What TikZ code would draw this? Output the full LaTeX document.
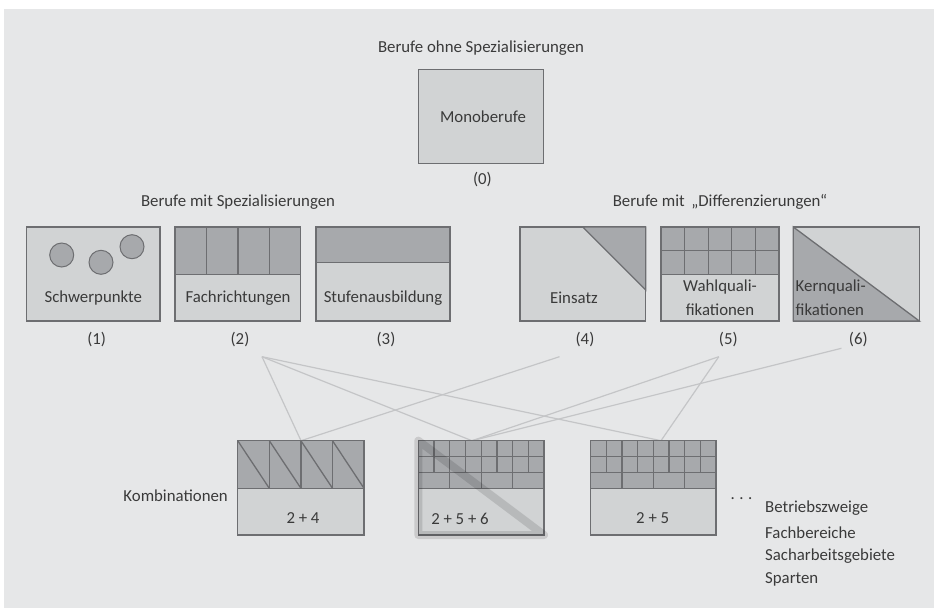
\documentclass[tikz,border=0pt]{standalone}
\usepackage{fontspec}
\setmainfont{Carlito}
\definecolor{bgc}{HTML}{E6E7E8}
\definecolor{lightf}{HTML}{D1D3D4}
\definecolor{darkf}{HTML}{A7A9AC}
\definecolor{strk}{HTML}{6D6E71}
\definecolor{conn}{HTML}{C4C5C7}
\definecolor{txt}{HTML}{3A3A3A}
\definecolor{halo}{HTML}{E0E0E0}
\begin{document}
\begin{tikzpicture}[x=1pt,y=-1pt,
  every node/.style={font=\fontsize{16.8}{19}\selectfont, text=txt, inner sep=0pt},
  lt/.style={fill=lightf, draw=strk, line width=1.3pt},
  dk/.style={fill=darkf, draw=strk, line width=1.3pt},
  ln/.style={draw=strk, line width=1.3pt},
  conline/.style={draw=conn, line width=1.2pt},
  lbl/.style={anchor=center}]
\useasboundingbox (0,0) rectangle (934,608);
\fill[white] (0,0) rectangle (934,608);
\fill[bgc] (4,9) rectangle (934,608);

% ---- top: Monoberufe
\node[lbl] (tOhne) at (481,48) {Berufe ohne Spezialisierungen};
\draw[lt] (418.7,69.3) rectangle (543.8,163.3);
\node[lbl] (mono) at (483,117) {Monoberufe};
\node[lbl] (n0) at (482.4,180) {(0)};

% ---- group titles
\node[lbl] (tSpez) at (238,201.7) {Berufe mit Spezialisierungen};
\node[lbl] (tDiff) at (720,201.7) {Berufe mit \,„Differenzierungen“};

% ---- box 1 Schwerpunkte
\draw[lt] (26.7,227) rectangle (160,321);
\draw[dk, line width=1pt] (61.7,255) circle (12);
\draw[dk, line width=1pt] (101,262.3) circle (12);
\draw[dk, line width=1pt] (132,246.7) circle (12);
\node[lbl] (s1) at (93.3,298) {Schwerpunkte};

% ---- box 2 Fachrichtungen
\draw[lt] (175,227) rectangle (300.7,321);
\draw[dk] (175,227) rectangle (300.7,274.7);
\foreach \x in {206.4,237.9,269.3} \draw[ln] (\x,227) -- (\x,274.7);
\node[lbl] (s2) at (238,298) {Fachrichtungen};

% ---- box 3 Stufenausbildung
\draw[lt] (316,227) rectangle (450,321);
\draw[dk] (316,227) rectangle (450,262.3);
\node[lbl] (s3) at (383,298) {Stufenausbildung};

% ---- box 4 Einsatz
\draw[lt] (520,227) rectangle (645.7,321);
\draw[dk] (582.7,227) -- (645.7,227) -- (645.7,290) -- cycle;
\node[lbl] (s4) at (574,298) {Einsatz};

% ---- box 5 Wahlqualifikationen
\draw[lt] (661,227) rectangle (779,321);
\draw[dk] (661,227) rectangle (779,274.7);
\draw[ln] (661,250.7) -- (779,250.7);
\foreach \x in {684.6,708.2,731.8,755.4} \draw[ln] (\x,227) -- (\x,274.7);
\node[lbl] (s5a) at (720,286.7) {Wahlquali-};
\node[lbl] (s5b) at (720,310) {fikationen};

% ---- box 6 Kernqualifikationen
\draw[lt] (793.3,227) rectangle (919.3,321);
\draw[dk] (793.3,227) -- (793.3,321) -- (919.3,321) -- cycle;
\node[anchor=west] (s6a) at (795.5,286.7) {Kernquali-};
\node[anchor=west] (s6b) at (795.5,310) {fikationen};

% ---- numbers
\node[lbl] (n1) at (96.7,340) {(1)};
\node[lbl] (n2) at (240,340) {(2)};
\node[lbl] (n3) at (386,340) {(3)};
\node[lbl] (n4) at (585,340) {(4)};
\node[lbl] (n5) at (728.3,340) {(5)};
\node[lbl] (n6) at (858.3,340) {(6)};

% ---- connector end points
\coordinate (p2) at (262,356.7);
\coordinate (p4) at (559.5,356.7);
\coordinate (p5) at (718.8,356.7);
\coordinate (p6) at (841.4,348.3);
\coordinate (c1) at (301,440.7);
\coordinate (c2) at (472,440.7);
\coordinate (c3) at (661,440.7);
\draw[conline] (p2) -- (c1);
\draw[conline] (p2) -- (c2);
\draw[conline] (p2) -- (c3);
\draw[conline] (p4) -- (c1);
\draw[conline] (p5) -- (c2);
\draw[conline] (p6) -- (c2);
\draw[conline] (p5) -- (c3);

% ---- combination 1 : 2 + 4
\draw[lt] (237.7,440.7) rectangle (364,535);
\draw[dk] (237.7,440.7) rectangle (364,488.3);
\foreach \a/\b in {237.7/269.3,269.3/300.9,300.9/332.5,332.5/364}{
  \draw[ln] (\a,440.7) -- (\b,488.3);
  \draw[ln] (\b,440.7) -- (\b,488.3);
}
\node[lbl] (k1) at (303,518.3) {2 + 4};
\node[anchor=east] (komb) at (228,496) {Kombinationen};

% ---- combination 2 : 2 + 5 + 6
\draw[lt] (418.3,440.7) rectangle (544,535);
\draw[dk] (418.3,440.7) rectangle (544,488.3);
\draw[ln] (418.3,456.7) -- (544,456.7);
\draw[ln] (418.3,472.7) -- (544,472.7);
\foreach \k in {1,...,7} \draw[ln] ({418.3+\k*15.7125},440.7) -- ({418.3+\k*15.7125},472.7);
\foreach \k in {2,4,6} \draw[ln] ({418.3+\k*15.7125},472.7) -- ({418.3+\k*15.7125},488.3);
\begin{scope}[blend mode=multiply]
  \draw[halo, line width=8pt, line join=round] (418.3,440.7) -- (418.3,535) -- (544,535) -- cycle;
\end{scope}
\node[lbl] (k2) at (460,519.3) {2 + 5 + 6};

% ---- combination 3 : 2 + 5
\draw[lt] (590.7,440.7) rectangle (716,535);
\draw[dk] (590.7,440.7) rectangle (716,488.3);
\draw[ln] (590.7,456.7) -- (716,456.7);
\draw[ln] (590.7,472.7) -- (716,472.7);
\foreach \k in {1,...,7} \draw[ln] ({590.7+\k*15.6625},440.7) -- ({590.7+\k*15.6625},472.7);
\foreach \k in {2,4,6} \draw[ln] ({590.7+\k*15.6625},472.7) -- ({590.7+\k*15.6625},488.3);
\node[lbl] (k3) at (652.7,518.3) {2 + 5};

% ---- ellipsis and list
\node[lbl] (dots) at (741.5,499) {.\hspace{4.5pt}.\hspace{4.5pt}.};
\node[anchor=west] (l1) at (765,508.3) {Betriebszweige};
\node[anchor=west] (l2) at (765,532.7) {Fachbereiche};
\node[anchor=west] (l3) at (765,556) {Sacharbeitsgebiete};
\node[anchor=west] (l4) at (765,579.3) {Sparten};
\end{tikzpicture}
\end{document}
